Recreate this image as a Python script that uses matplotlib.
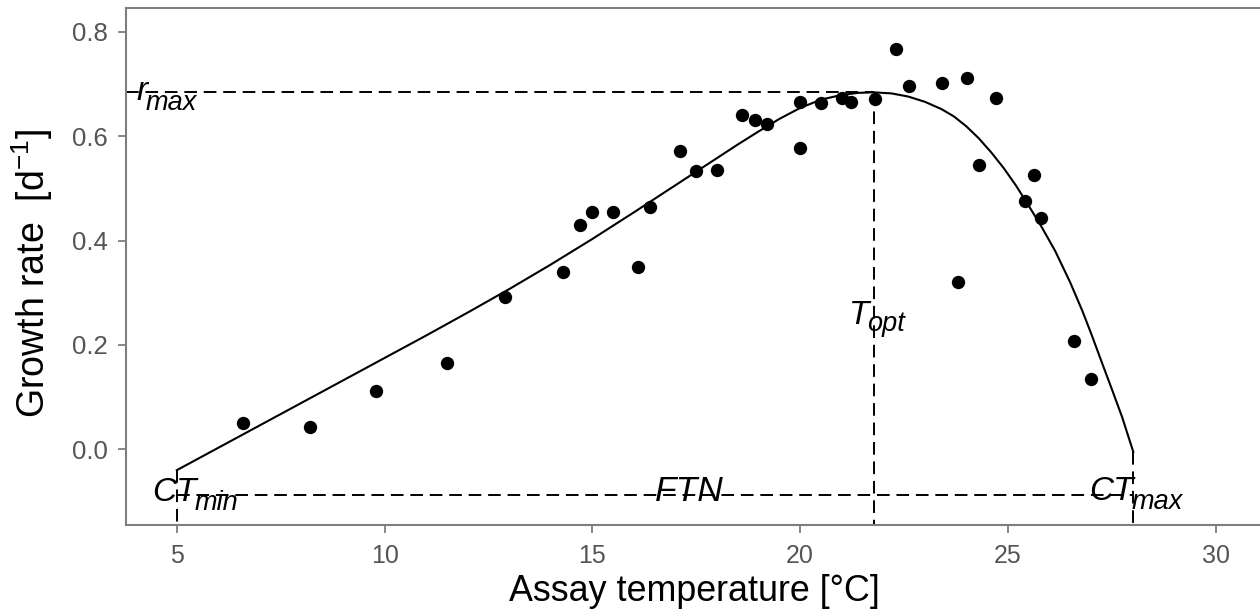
import matplotlib
matplotlib.use("Agg")
import matplotlib.pyplot as plt

# observed growth rates
temp = [6.59, 8.20, 9.80, 11.50, 12.89, 14.30, 14.70, 15.00, 15.50, 16.10,
        16.39, 17.10, 17.50, 18.00, 18.60, 18.91, 19.21, 20.00, 20.00, 20.51,
        21.00, 21.22, 21.80, 22.31, 22.61, 23.41, 24.01, 24.71, 24.30, 23.81,
        25.42, 25.62, 25.81, 26.60, 27.01]
rate = [0.050, 0.043, 0.112, 0.165, 0.292, 0.340, 0.430, 0.455, 0.455, 0.350,
        0.465, 0.571, 0.534, 0.535, 0.641, 0.631, 0.623, 0.666, 0.578, 0.664,
        0.674, 0.665, 0.671, 0.768, 0.696, 0.702, 0.711, 0.674, 0.545, 0.320,
        0.476, 0.525, 0.444, 0.207, 0.134]

# fitted thermal performance curve
curve_t = [5.0, 6, 7, 8, 9, 10, 11, 12, 13, 14, 15, 16, 17, 18, 18.5, 19,
           19.5, 20, 20.5, 21, 21.4, 21.77, 22.2, 22.6, 23.0, 23.4, 23.7, 24.0,
           24.3, 24.6, 24.9, 25.2, 25.5, 25.8, 26.14, 26.5, 26.79, 27.0, 27.27,
           27.5, 27.75, 28.02]
curve_r = [-0.040, 0.003, 0.046, 0.089, 0.132, 0.175, 0.218, 0.262, 0.307,
           0.354, 0.403, 0.454, 0.506, 0.558, 0.584, 0.609, 0.633, 0.654,
           0.670, 0.679, 0.683, 0.684, 0.682, 0.676, 0.666, 0.652, 0.638,
           0.619, 0.596, 0.569, 0.539, 0.505, 0.467, 0.428, 0.380, 0.320,
           0.266, 0.223, 0.165, 0.116, 0.062, -0.005]

# key parameters
ct_min = 5.0
ct_max = 28.02
t_opt = 21.77
r_max = 0.684
ftn_y = -0.088

x_lim = (3.777, 31.13)
y_lim = (-0.145, 0.845)

plt.rcParams["font.family"] = ["Liberation Sans", "DejaVu Sans"]
plt.rcParams["mathtext.fontset"] = "custom"
plt.rcParams["mathtext.rm"] = "Liberation Sans"
plt.rcParams["mathtext.it"] = "Liberation Sans:italic"

fig = plt.figure(figsize=(12.6, 6.12), dpi=100)
ax = fig.add_axes([0.1, 0.1422, 0.902, 0.8442])

dash = dict(color="black", lw=1.4, linestyle=(0, (6.5, 3.5)))
ax.plot([x_lim[0], t_opt], [r_max, r_max], **dash)
ax.plot([t_opt, t_opt], [r_max, y_lim[0]], **dash)
ax.plot([ct_min, ct_max], [ftn_y, ftn_y], **dash)
ax.plot([ct_min, ct_min], [curve_r[0], y_lim[0]], **dash)
ax.plot([ct_max, ct_max], [curve_r[-1], y_lim[0]], **dash)

ax.plot(curve_t, curve_r, color="black", lw=1.5)
ax.plot(temp, rate, "o", color="black", markersize=9.6, markeredgewidth=0)


def sub_label(x, y, main, sub="", drop=6, size=24):
    t = ax.text(x, y, main, fontsize=size, style="italic", ha="left",
                va="baseline")
    if sub:
        ax.annotate(sub, xy=(1, y), xycoords=(t, "data"),
                    xytext=(-1.5, -drop), textcoords="offset points",
                    fontsize=19.5, style="italic", ha="left", va="baseline")


sub_label(4.04, 0.669, "r", "max", drop=7)
sub_label(21.17, 0.240, "T", "opt", drop=5)
sub_label(4.40, -0.100, "CT", "min", drop=6)
sub_label(26.95, -0.097, "CT", "max", drop=6.5)
sub_label(16.50, -0.100, "FTN", size=25.5)

ax.set_xlim(*x_lim)
ax.set_ylim(*y_lim)
ax.set_xticks([5, 10, 15, 20, 25, 30])
ax.set_yticks([0.0, 0.2, 0.4, 0.6, 0.8])
ax.set_yticklabels(["0.0", "0.2", "0.4", "0.6", "0.8"])

for s in ax.spines.values():
    s.set_color("#7f7f7f")
    s.set_linewidth(1.5)
ax.tick_params(length=6, width=1.3, color="#7f7f7f", labelcolor="#555555",
               labelsize=18)
ax.tick_params(axis="x", pad=8)
ax.tick_params(axis="y", pad=7, labelsize=18.5)

ax.set_xlabel("Assay temperature [°C]", fontsize=25.8, labelpad=4)
ax.set_ylabel("Growth rate  [d$^{-1}$]", fontsize=27)
ax.yaxis.set_label_coords(-0.0625, 0.487)

fig.savefig("out.png", dpi=100)
